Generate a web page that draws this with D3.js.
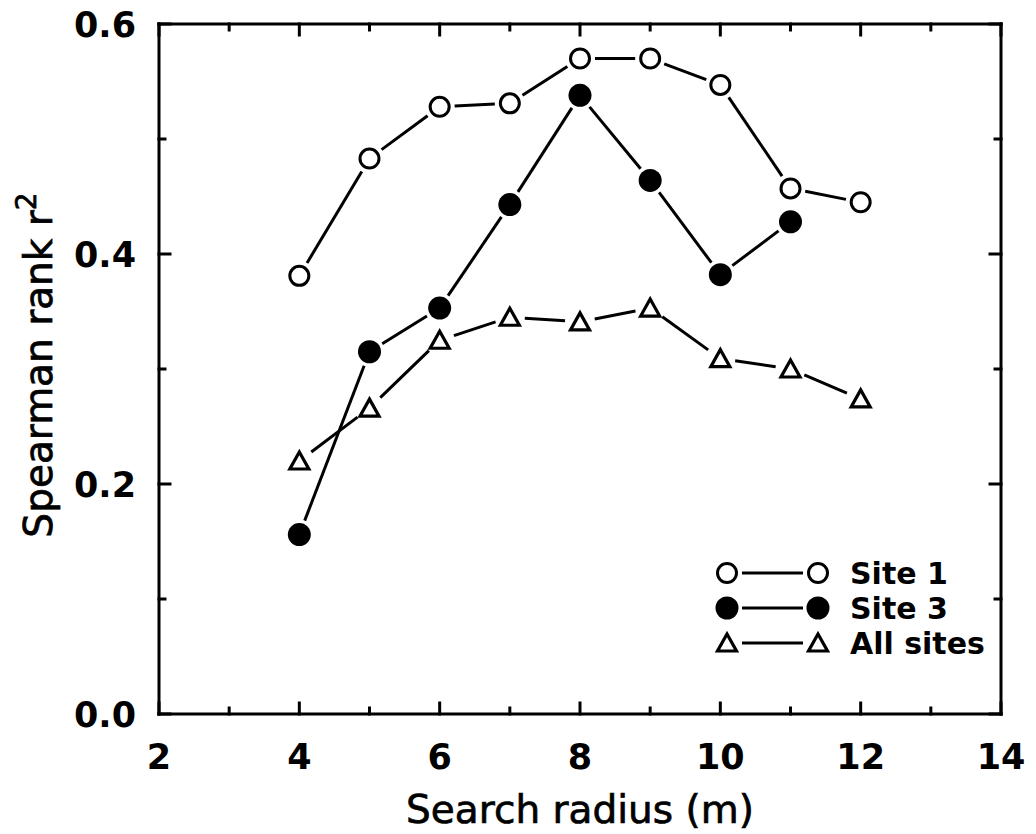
<!DOCTYPE html>
<html lang="en">
<head>
  <meta charset="UTF-8" />
  <title>Spearman rank vs search radius</title>
  <script src="https://d3js.org/d3.v7.min.js"></script>
  <style>
    body { margin: 0; background: #fff; }
    svg { display: block; font-family: "DejaVu Sans", Arial, sans-serif; }
    .frame line { stroke: #000; stroke-width: 3; stroke-linecap: square; }
    .tick-lbl { font-size: 35px; font-weight: bold; fill: #000; }
    .title { font-size: 39px; fill: #000; stroke: #000; stroke-width: 0.7; }
    .legend text { font-size: 30px; font-weight: bold; fill: #000; }
  </style>
</head>
<body>
  <svg id="chart" width="1036" height="834"></svg>

  <script>
    // data
    const radius = [4, 5, 6, 7, 8, 9, 10, 11, 12];
    const site1 = [0.381, 0.483, 0.528, 0.531, 0.570, 0.570, 0.547, 0.457, 0.445];
    const site3 = [0.156, 0.315, 0.353, 0.443, 0.538, 0.464, 0.382, 0.428];
    const allSites = [0.220, 0.266, 0.325, 0.345, 0.341, 0.353, 0.309, 0.300, 0.274];

    const xTicks = [2, 4, 6, 8, 10, 12, 14];
    const yTicks = [0.0, 0.2, 0.4, 0.6];

    const series = [
      { name: "Site 1", values: site1, symbol: "open" },
      { name: "Site 3", values: site3, symbol: "filled" },
      { name: "All sites", values: allSites, symbol: "tri" }
    ];

    /************************************************************
     * SETUP
     ************************************************************/
    const W = 1036, H = 834;
    const margin = { top: 24, right: 35, bottom: 120, left: 159 };
    const svg = d3.select("#chart");

    const x = d3.scaleLinear().domain([2, 14]).range([margin.left, W - margin.right]);
    const y = d3.scaleLinear().domain([0, 0.6]).range([H - margin.bottom, margin.top]);

    const x0 = x.range()[0], x1 = x.range()[1];
    const y0 = y.range()[0], y1 = y.range()[1];

    /************************************************************
     * FRAME + INWARD TICKS ON ALL FOUR SIDES
     ************************************************************/
    const frame = svg.append("g").attr("class", "frame");
    frame.append("line").attr("x1", x0).attr("x2", x1).attr("y1", y0).attr("y2", y0);
    frame.append("line").attr("x1", x0).attr("x2", x1).attr("y1", y1).attr("y2", y1);
    frame.append("line").attr("x1", x0).attr("x2", x0).attr("y1", y0).attr("y2", y1);
    frame.append("line").attr("x1", x1).attr("x2", x1).attr("y1", y0).attr("y2", y1);

    const majorLen = 11, minorLen = 6;

    d3.range(2, 14.01, 1).forEach(v => {
      const len = v % 2 === 0 ? majorLen : minorLen;
      frame.append("line").attr("x1", x(v)).attr("x2", x(v)).attr("y1", y0).attr("y2", y0 - len);
      frame.append("line").attr("x1", x(v)).attr("x2", x(v)).attr("y1", y1).attr("y2", y1 + len);
    });

    d3.range(0, 7).forEach(i => {
      const v = i / 10;
      const len = i % 2 === 0 ? majorLen : minorLen;
      frame.append("line").attr("x1", x0).attr("x2", x0 + len).attr("y1", y(v)).attr("y2", y(v));
      frame.append("line").attr("x1", x1).attr("x2", x1 - len).attr("y1", y(v)).attr("y2", y(v));
    });

    // tick labels
    svg.append("g").selectAll("text").data(xTicks).join("text")
      .attr("class", "tick-lbl")
      .attr("x", d => x(d))
      .attr("y", y0 + 55)
      .attr("text-anchor", "middle")
      .text(d => d);

    svg.append("g").selectAll("text").data(yTicks).join("text")
      .attr("class", "tick-lbl")
      .attr("x", x0 - 23)
      .attr("y", d => y(d) + 13)
      .attr("text-anchor", "end")
      .text(d => d.toFixed(1));

    // axis titles
    svg.append("text")
      .attr("class", "title")
      .attr("x", (x0 + x1) / 2)
      .attr("y", 823)
      .attr("text-anchor", "middle")
      .text("Search radius (m)");

    const yt = svg.append("text")
      .attr("class", "title")
      .attr("transform", `translate(52, ${(y0 + y1) / 2 - 4}) rotate(-90)`)
      .attr("text-anchor", "middle");
    yt.append("tspan").text("Spearman rank r");
    yt.append("tspan").attr("dy", -16).attr("font-size", 28).text("2");

    /************************************************************
     * SERIES: lines stop short of the markers
     ************************************************************/
    const gap = 15;

    function drawMarker(g, cx, cy, symbol) {
      if (symbol === "open") {
        g.append("circle").attr("cx", cx).attr("cy", cy).attr("r", 9.5)
          .attr("fill", "#fff").attr("stroke", "#000").attr("stroke-width", 3);
      } else if (symbol === "filled") {
        g.append("circle").attr("cx", cx).attr("cy", cy).attr("r", 11.5)
          .attr("fill", "#000");
      } else {
        const s = 19, h = 16;
        g.append("path")
          .attr("d", `M${cx},${cy - h / 2 - 1} L${cx + s / 2},${cy + h / 2} L${cx - s / 2},${cy + h / 2} Z`)
          .attr("fill", "#fff").attr("stroke", "#000").attr("stroke-width", 3.2)
          .attr("stroke-linejoin", "miter");
      }
    }

    function segment(g, ax, ay, bx, by) {
      const dx = bx - ax, dy = by - ay;
      const L = Math.hypot(dx, dy);
      if (L <= 2 * gap) return;
      const ux = dx / L, uy = dy / L;
      g.append("line")
        .attr("x1", ax + ux * gap).attr("y1", ay + uy * gap)
        .attr("x2", bx - ux * gap).attr("y2", by - uy * gap)
        .attr("stroke", "#000").attr("stroke-width", 3);
    }

    series.forEach(s => {
      const g = svg.append("g");
      const pts = s.values.map((v, i) => [x(radius[i]), y(v)]);
      for (let i = 1; i < pts.length; i++) {
        segment(g, pts[i - 1][0], pts[i - 1][1], pts[i][0], pts[i][1]);
      }
      pts.forEach(p => drawMarker(g, p[0], p[1], s.symbol));
    });

    /************************************************************
     * LEGEND
     ************************************************************/
    const legend = svg.append("g").attr("class", "legend");
    series.forEach((s, i) => {
      const ly = 573 + i * 35;
      segment(legend, 727, ly, 818, ly);
      drawMarker(legend, 727, ly, s.symbol);
      drawMarker(legend, 818, ly, s.symbol);
      legend.append("text")
        .attr("x", 850)
        .attr("y", ly + 11)
        .text(s.name);
    });
  </script>
</body>
</html>
